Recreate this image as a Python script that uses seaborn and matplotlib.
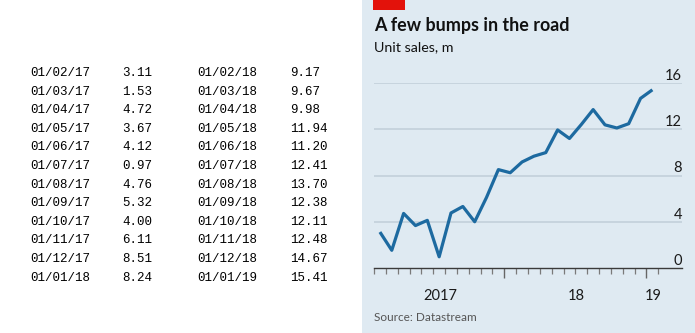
import matplotlib
matplotlib.use("Agg")
import matplotlib.pyplot as plt
import matplotlib.patches as mpatches
import matplotlib.ticker as mticker
import seaborn as sns
import pandas as pd

# ---- data ----
dates_2017 = ["01/02/17", "01/03/17", "01/04/17", "01/05/17", "01/06/17", "01/07/17",
              "01/08/17", "01/09/17", "01/10/17", "01/11/17", "01/12/17", "01/01/18"]
values_2017 = [3.11, 1.53, 4.72, 3.67, 4.12, 0.97, 4.76, 5.32, 4.00, 6.11, 8.51, 8.24]
dates_2018 = ["01/02/18", "01/03/18", "01/04/18", "01/05/18", "01/06/18", "01/07/18",
              "01/08/18", "01/09/18", "01/10/18", "01/11/18", "01/12/18", "01/01/19"]
values_2018 = [9.17, 9.67, 9.98, 11.94, 11.20, 12.41, 13.70, 12.38, 12.11, 12.48, 14.67, 15.41]
y_ticks = [0, 4, 8, 12, 16]
year_labels = ["2017", "18", "19"]
title = "A few bumps in the road"
subtitle = "Unit sales, m"
source = "Source: Datastream"

sns.set_style("white")
plt.rcParams["font.family"] = ["Lato", "DejaVu Sans"]

W, H = 695, 333
fig = plt.figure(figsize=(W / 100, H / 100), dpi=100)
fig.patch.set_facecolor("white")

def fx(px):
    return px / W

def fy(py):
    return 1 - py / H

# panel background
fig.patches.append(mpatches.Rectangle((fx(362), 0), 1 - fx(362), 1, transform=fig.transFigure,
                                      facecolor="#dfeaf2", edgecolor="none", zorder=-10))
# red tag
fig.patches.append(mpatches.Rectangle((fx(373), fy(10)), fx(405) - fx(373), 10 / H,
                                      transform=fig.transFigure, facecolor="#e3120b",
                                      edgecolor="none", zorder=-5))

# ---- left table ----
mono = ["Liberation Mono", "DejaVu Sans Mono"]
for i in range(12):
    yb = fy(76 + i * 18.6)
    kw = dict(family=mono, fontsize=9, color="#000000", va="baseline")
    fig.text(fx(30), yb, dates_2017[i], **kw)
    fig.text(fx(122), yb, f"{values_2017[i]:.2f}", **kw)
    fig.text(fx(197), yb, dates_2018[i], **kw)
    fig.text(fx(290), yb, f"{values_2018[i]:.2f}", **kw)

# ---- chart ----
ax = fig.add_axes([fx(374), fy(268), fx(682) - fx(374), (268 - 83) / H])
ax.set_zorder(5)
ax.patch.set_visible(False)

values = values_2017 + values_2018
df = pd.DataFrame({"month": [i + 1.5 for i in range(len(values))], "sales": values})

for t in y_ticks[1:]:
    ax.axhline(t, color="#c3d0da", lw=1.2, zorder=1)

sns.lineplot(data=df, x="month", y="sales", ax=ax, color="#1d6aa0", lw=2.3,
             solid_joinstyle="round", solid_capstyle="butt", zorder=3, clip_on=False)

ax.set_xlim(1, 27)
ax.set_ylim(0, 16)
for s in ["top", "left", "right"]:
    ax.spines[s].set_visible(False)
ax.spines["bottom"].set_color("#3a3a3a")
ax.spines["bottom"].set_linewidth(1.0)
ax.set_xlabel("")
ax.set_ylabel("")
ax.set_yticks([])

ax.xaxis.set_major_locator(mticker.FixedLocator([12, 24]))
ax.xaxis.set_minor_locator(mticker.FixedLocator([m for m in range(1, 26) if m not in (12, 24)]))
ax.tick_params(axis="x", which="major", length=7.5, width=1.0, color="#666666", labelbottom=False, direction="out")
ax.tick_params(axis="x", which="minor", length=4, width=0.9, color="#7a7a7a", direction="out")
ax.tick_params(axis="x", which="both", bottom=True)

for t in y_ticks:
    ax.annotate(str(t), xy=(1, t), xycoords=ax.get_yaxis_transform(), xytext=(0, 3),
                textcoords="offset pixels", ha="right", va="baseline", fontsize=10.5, color="#1a1a1a")

year_pos = [6.57, 18.1, 24.6]
for lbl, xp in zip(year_labels, year_pos):
    ax.annotate(lbl, xy=(xp, 0), xycoords=ax.get_xaxis_transform(), xytext=(0, -32),
                textcoords="offset pixels", ha="center", va="baseline", fontsize=10.5, color="#1a1a1a")

fig.text(fx(374), fy(31), title, fontsize=12.9, fontweight="bold", color="#111111", va="baseline")
fig.text(fx(374), fy(51), subtitle, fontsize=10.3, color="#111111", va="baseline")
fig.text(fx(374), fy(321), source, fontsize=8.5, color="#555555", va="baseline")

fig.savefig("out.png", dpi=100)
